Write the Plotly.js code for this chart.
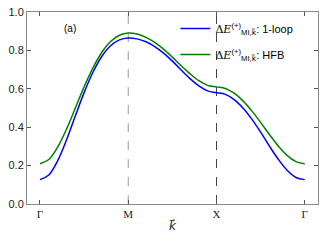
<!DOCTYPE html>
<html><head><meta charset="utf-8">
<script src="https://cdn.plot.ly/plotly-3.0.1.min.js"></script>
<style>html,body{margin:0;padding:0;background:#fff}#g{width:325px;height:245px}</style>
</head><body><div id="g"></div>
<script>
// path position along Γ–M–X–Γ (segment index units)
const kPath = [0,0.1,0.2,0.3,0.4,0.5,0.6,0.7,0.8,0.9,1.0,
  1.1,1.2,1.3,1.4,1.5,1.6,1.7,1.8,1.9,2.0,
  2.1,2.2,2.3,2.4,2.5,2.6,2.7,2.8,2.9,3.0];
const oneLoop = [0.127,0.151,0.225,0.333,0.458,0.580,0.686,0.768,0.824,0.855,0.865,
  0.860,0.845,0.820,0.786,0.744,0.698,0.653,0.615,0.589,0.580,
  0.571,0.544,0.500,0.442,0.374,0.301,0.233,0.176,0.138,0.127];
const hfb = [0.210,0.232,0.296,0.389,0.499,0.610,0.709,0.789,0.846,0.879,0.890,
  0.885,0.868,0.842,0.807,0.765,0.720,0.678,0.642,0.618,0.610,
  0.602,0.577,0.537,0.485,0.425,0.362,0.302,0.253,0.221,0.210];
const tickPos = [0,1,2,3];
const tickText = ['Γ','M','X','Γ'];
const dashedX = [1,2];
const dashedColors = ['#999999','#444444'];
const kvec = '<span style="font-family:DejaVu Sans">k\u20D7</span>';
const mathE = '<span style="font-family:DejaVu Serif">Δ<i>E</i></span>';
const names = [mathE+'<sup>(+)</sup><sub>MI,'+kvec+'</sub>: 1-loop', mathE+'<sup>(+)</sup><sub>MI,'+kvec+'</sub>: HFB'];

const traces = [
  {x:kPath,y:oneLoop,mode:'lines',name:names[0],legendgroup:'a',line:{color:'#0000ff',width:1.5,shape:'spline'}},
  {x:kPath,y:hfb,mode:'lines',name:names[1],legendgroup:'b',line:{color:'#008000',width:1.5,shape:'spline'}}
];
const shapes = dashedX.map((v,i)=>({type:'line',xref:'x',yref:'paper',x0:v,x1:v,y0:0,y1:1,
  line:{color:dashedColors[i],width:1,dash:'dash'},layer:'below'}));
const layout = {
  width:325,height:245,
  margin:{l:27,r:7,t:12,b:41},
  paper_bgcolor:'#fff',plot_bgcolor:'#fff',
  showlegend:true,
  legend:{x:0.51,y:0.99,xanchor:'left',yanchor:'top',bgcolor:'rgba(0,0,0,0)',traceorder:'grouped',
    font:{family:'Liberation Sans, Arial, sans-serif',size:11,color:'#000'},tracegroupgap:7,itemwidth:30},
  xaxis:{range:[-0.147,3.15],tickmode:'array',tickvals:tickPos,ticktext:tickText,
    ticks:'inside',ticklen:4,tickcolor:'#555',showgrid:false,zeroline:false,
    showline:true,linecolor:'#888',linewidth:1,mirror:'ticks',
    tickfont:{family:'Liberation Serif, DejaVu Serif, serif',size:11,color:'#222'},
    title:{text:'<i>'+kvec+'</i>',font:{family:'DejaVu Serif, Liberation Serif, serif',size:12,color:'#222'},standoff:2}},
  yaxis:{range:[0,1],tickvals:[0,0.2,0.4,0.6,0.8,1.0],tickformat:'.1f',
    ticks:'inside',ticklen:4,tickcolor:'#555',showgrid:false,zeroline:false,
    showline:true,linecolor:'#888',linewidth:1,mirror:'ticks',
    tickfont:{family:'Liberation Sans, Arial, sans-serif',size:11,color:'#222'}},
  shapes:shapes,
  annotations:[{xref:'paper',yref:'paper',x:0.12,y:0.915,xanchor:'left',yanchor:'middle',
    text:'(a)',showarrow:false,font:{family:'Liberation Sans, Arial, sans-serif',size:10,color:'#000'}}]
};
Plotly.newPlot('g',traces,layout,{staticPlot:true,displayModeBar:false});
</script></body></html>
